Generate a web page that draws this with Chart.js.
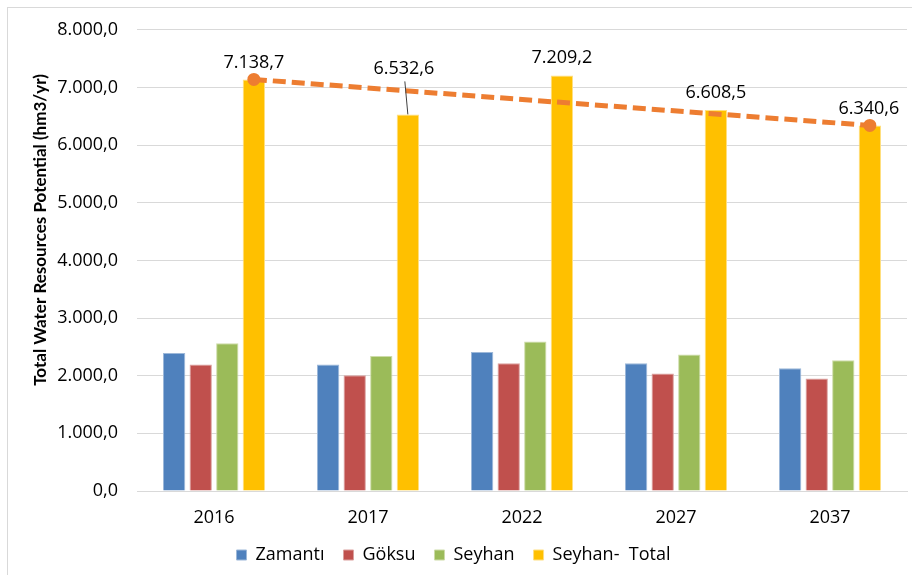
<!DOCTYPE html>
<html>
<head>
<meta charset="utf-8">
<script src="https://cdn.jsdelivr.net/npm/chart.js@4"></script>
<style>
  body { margin: 0; background: #fff; }
  #wrap { width: 912px; height: 575px; }
</style>
</head>
<body>
<div id="wrap"><canvas id="water-chart" width="912" height="575"></canvas></div>
<script>
const years = ['2016', '2017', '2022', '2027', '2037'];
const zamanti = [2395, 2194, 2412, 2216, 2130];
const goksu = [2194, 2009, 2216, 2038, 1951];
const seyhan = [2563, 2343, 2592, 2367, 2268];
const total = [7138.7, 6532.6, 7209.2, 6608.5, 6340.6];
const yTicks = [0, 1000, 2000, 3000, 4000, 5000, 6000, 7000, 8000];

const FONT = '"Open Sans", sans-serif';

// 7138.7 -> "7.138,7"
function trNum(v) {
    const parts = v.toFixed(1).split('.');
    const whole = parts[0].replace(/\B(?=(\d{3})+(?!\d))/g, '.');
    return whole + ',' + parts[1];
}

// label lift above bar top and small x nudge (2017 label is pulled up with a leader line)
const labelLift = [17, 46, 18, 17, 17];
const labelNudge = [0, -4, 0, 0, -1];

const frame = {
    id: 'frame',
    beforeDraw(chart) {
        const ctx = chart.ctx;
        ctx.save();
        ctx.strokeStyle = '#d9d9d9';
        ctx.lineWidth = 1;
        ctx.strokeRect(7.5, 7.5, 920, 590);
        ctx.restore();
    }
};

const axisTitle = {
    id: 'axisTitle',
    afterDraw(chart) {
        const ctx = chart.ctx;
        ctx.save();
        ctx.translate(41, 230);
        ctx.rotate(-Math.PI / 2);
        ctx.font = 'bold 17px Lato, sans-serif';
        ctx.fillStyle = '#000';
        ctx.textAlign = 'center';
        ctx.textBaseline = 'middle';
        ctx.fillText('Total Water Resources Potential (hm3/yr)', 0, 0, 318);
        ctx.restore();
    }
};

// trend line between first and last total, plus the value labels on the total bars
const trendAndLabels = {
    id: 'trendAndLabels',
    afterDatasetsDraw(chart) {
        const ctx = chart.ctx;
        const y = chart.scales.y;
        const bars = chart.getDatasetMeta(3).data;
        const last = total.length - 1;
        const x0 = bars[0].x, y0 = y.getPixelForValue(total[0]);
        const x1 = bars[last].x, y1 = y.getPixelForValue(total[last]);

        ctx.save();
        ctx.strokeStyle = '#ED7D31';
        ctx.lineWidth = 5;
        ctx.setLineDash([13, 6]);
        ctx.beginPath();
        ctx.moveTo(x0, y0);
        ctx.lineTo(x1, y1);
        ctx.stroke();
        ctx.setLineDash([]);
        ctx.fillStyle = '#ED7D31';
        [[x0, y0], [x1, y1]].forEach(p => {
            ctx.beginPath();
            ctx.arc(p[0], p[1], 6.5, 0, Math.PI * 2);
            ctx.fill();
        });

        ctx.font = '18px ' + FONT;
        ctx.fillStyle = '#000';
        ctx.textAlign = 'center';
        ctx.textBaseline = 'middle';
        bars.forEach((bar, i) => {
            const top = y.getPixelForValue(total[i]);
            const lx = bar.x + labelNudge[i];
            const ly = top - labelLift[i];
            ctx.fillText(trNum(total[i]), lx, ly);
            if (labelLift[i] > 30) {
                ctx.strokeStyle = '#404040';
                ctx.lineWidth = 1;
                ctx.beginPath();
                ctx.moveTo(lx + 1, ly + 13);
                ctx.lineTo(bar.x, top);
                ctx.stroke();
            }
        });
        ctx.restore();
    }
};

new Chart(document.getElementById('water-chart').getContext('2d'), {
    type: 'bar',
    data: {
        labels: years,
        datasets: [
            { label: 'Zamantı', data: zamanti, backgroundColor: '#4F81BD', borderColor: '#9db8d9', borderWidth: 1 },
            { label: 'Göksu', data: goksu, backgroundColor: '#C0504D', borderColor: '#dba09e', borderWidth: 1 },
            { label: 'Seyhan', data: seyhan, backgroundColor: '#9BBB59', borderColor: '#cddca8', borderWidth: 1 },
            { label: 'Seyhan-  Total', data: total, backgroundColor: '#FFC000', borderColor: '#ffdf80', borderWidth: 1 }
        ]
    },
    options: {
        responsive: false,
        animation: false,
        datasets: { bar: { barPercentage: 0.84, categoryPercentage: 0.69 } },
        layout: { padding: { left: 0, right: 5, top: 28, bottom: 1 } },
        scales: {
            x: {
                grid: { display: false, drawTicks: false },
                border: { color: '#d9d9d9' },
                ticks: { padding: 16, color: '#000', font: { family: FONT, size: 18 } },
                afterFit(scale) { scale.height = 36; }
            },
            y: {
                min: 0,
                max: 8000,
                afterBuildTicks(scale) { scale.ticks = yTicks.map(v => ({ value: v })); },
                grid: { color: '#d9d9d9', drawTicks: false },
                border: { display: false },
                ticks: {
                    padding: 19,
                    color: '#000',
                    font: { family: FONT, size: 18 },
                    callback: v => trNum(v)
                },
                afterFit(scale) { scale.width = 137; }
            }
        },
        plugins: {
            legend: {
                position: 'bottom',
                labels: {
                    boxWidth: 10,
                    boxHeight: 10,
                    padding: 19,
                    color: '#000',
                    font: { family: FONT, size: 18 }
                }
            },
            tooltip: { enabled: false }
        }
    },
    plugins: [frame, axisTitle, trendAndLabels]
});
</script>
</body>
</html>
